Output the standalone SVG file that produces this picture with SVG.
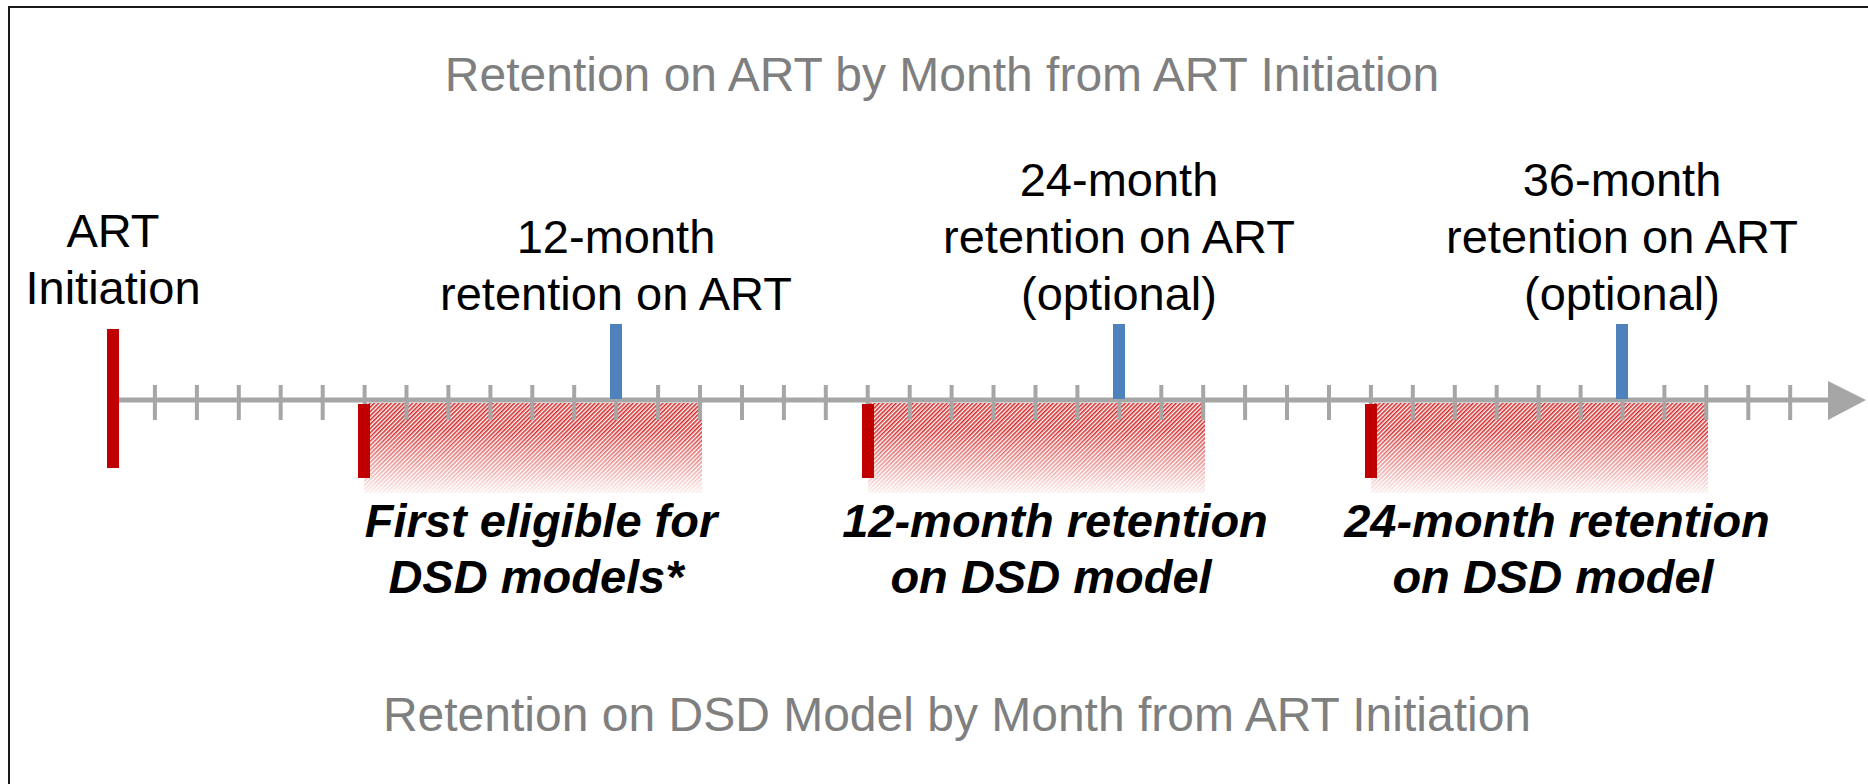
<svg xmlns="http://www.w3.org/2000/svg" width="1868" height="784" viewBox="0 0 1868 784">
  <style>
    .title { font-family: "Liberation Sans", Arial, sans-serif; font-size: 48px; fill: #7f7f7f; text-anchor: middle; }
    .lbl { font-family: "Liberation Sans", Arial, sans-serif; font-size: 47px; fill: #000; text-anchor: middle; }
    .dsd { font-family: "Liberation Sans", Arial, sans-serif; font-size: 47px; font-weight: bold; font-style: italic; fill: #000; text-anchor: middle; }
    .tick { stroke: #a6a6a6; stroke-width: 4; }
    .axis { stroke: #a6a6a6; stroke-width: 5; }
    .red { fill: #c00000; }
    .blue { fill: #4f81bd; }
  </style>
  <defs>
    <pattern id="stripes" width="3" height="3" patternUnits="userSpaceOnUse" patternTransform="rotate(45)">
      <rect width="1.6" height="3" fill="#d42a2a"/>
    </pattern>
    <linearGradient id="fade" x1="0" y1="0" x2="0" y2="1">
      <stop offset="0" stop-color="#fff" stop-opacity="1"/>
      <stop offset="0.3" stop-color="#fff" stop-opacity="1"/>
      <stop offset="1" stop-color="#fff" stop-opacity="0.08"/>
    </linearGradient>
    <mask id="fadeMask" maskContentUnits="objectBoundingBox">
      <rect width="1" height="1" fill="url(#fade)"/>
    </mask>
  </defs>

  <rect width="1868" height="784" fill="#fff"/>
  <!-- frame: open to the right and bottom -->
  <rect x="9" y="7" width="1880" height="800" fill="none" stroke="#1a1a1a" stroke-width="2"/>

  <text class="title" x="942" y="91">Retention on ART by Month from ART Initiation</text>
  <text class="title" x="957" y="731">Retention on DSD Model by Month from ART Initiation</text>

  <!-- DSD windows (hatched, fading downward) -->
  <g id="dsd-windows">
    <rect x="364" y="403" width="338" height="90" fill="url(#stripes)" mask="url(#fadeMask)"/>
    <rect x="868" y="403" width="337" height="90" fill="url(#stripes)" mask="url(#fadeMask)"/>
    <rect x="1371" y="403" width="337" height="90" fill="url(#stripes)" mask="url(#fadeMask)"/>
  </g>

  <!-- timeline axis with month ticks -->
  <g id="connectors">
    <line class="axis" x1="113" y1="400" x2="1832" y2="400"/>
    <polygon points="1828,381 1866,400 1828,420" fill="#a6a6a6"/>
    <g id="ticks">
      <line class="tick" x1="154.9" y1="385" x2="154.9" y2="420"/>
      <line class="tick" x1="196.9" y1="385" x2="196.9" y2="420"/>
      <line class="tick" x1="238.8" y1="385" x2="238.8" y2="420"/>
      <line class="tick" x1="280.7" y1="385" x2="280.7" y2="420"/>
      <line class="tick" x1="322.7" y1="385" x2="322.7" y2="420"/>
      <line class="tick" x1="364.6" y1="385" x2="364.6" y2="420"/>
      <line class="tick" x1="406.5" y1="385" x2="406.5" y2="420"/>
      <line class="tick" x1="448.4" y1="385" x2="448.4" y2="420"/>
      <line class="tick" x1="490.4" y1="385" x2="490.4" y2="420"/>
      <line class="tick" x1="532.3" y1="385" x2="532.3" y2="420"/>
      <line class="tick" x1="574.2" y1="385" x2="574.2" y2="420"/>
      <line class="tick" x1="616.2" y1="385" x2="616.2" y2="420"/>
      <line class="tick" x1="658.1" y1="385" x2="658.1" y2="420"/>
      <line class="tick" x1="700.0" y1="385" x2="700.0" y2="420"/>
      <line class="tick" x1="742.0" y1="385" x2="742.0" y2="420"/>
      <line class="tick" x1="783.9" y1="385" x2="783.9" y2="420"/>
      <line class="tick" x1="825.8" y1="385" x2="825.8" y2="420"/>
      <line class="tick" x1="867.7" y1="385" x2="867.7" y2="420"/>
      <line class="tick" x1="909.7" y1="385" x2="909.7" y2="420"/>
      <line class="tick" x1="951.6" y1="385" x2="951.6" y2="420"/>
      <line class="tick" x1="993.5" y1="385" x2="993.5" y2="420"/>
      <line class="tick" x1="1035.5" y1="385" x2="1035.5" y2="420"/>
      <line class="tick" x1="1077.4" y1="385" x2="1077.4" y2="420"/>
      <line class="tick" x1="1119.3" y1="385" x2="1119.3" y2="420"/>
      <line class="tick" x1="1161.3" y1="385" x2="1161.3" y2="420"/>
      <line class="tick" x1="1203.2" y1="385" x2="1203.2" y2="420"/>
      <line class="tick" x1="1245.1" y1="385" x2="1245.1" y2="420"/>
      <line class="tick" x1="1287.0" y1="385" x2="1287.0" y2="420"/>
      <line class="tick" x1="1329.0" y1="385" x2="1329.0" y2="420"/>
      <line class="tick" x1="1370.9" y1="385" x2="1370.9" y2="420"/>
      <line class="tick" x1="1412.8" y1="385" x2="1412.8" y2="420"/>
      <line class="tick" x1="1454.8" y1="385" x2="1454.8" y2="420"/>
      <line class="tick" x1="1496.7" y1="385" x2="1496.7" y2="420"/>
      <line class="tick" x1="1538.6" y1="385" x2="1538.6" y2="420"/>
      <line class="tick" x1="1580.6" y1="385" x2="1580.6" y2="420"/>
      <line class="tick" x1="1622.5" y1="385" x2="1622.5" y2="420"/>
      <line class="tick" x1="1664.4" y1="385" x2="1664.4" y2="420"/>
      <line class="tick" x1="1706.3" y1="385" x2="1706.3" y2="420"/>
      <line class="tick" x1="1748.3" y1="385" x2="1748.3" y2="420"/>
      <line class="tick" x1="1790.2" y1="385" x2="1790.2" y2="420"/>
    </g>
  </g>

  <g id="art-initiation">
    <rect class="red" x="107" y="329" width="12" height="139"/>
    <text class="lbl" x="113" y="247">ART</text>
    <text class="lbl" x="113" y="304">Initiation</text>
  </g>

  <g id="art-12">
    <rect class="blue" x="610" y="324" width="12" height="75"/>
    <text class="lbl" x="616" y="253">12-month</text>
    <text class="lbl" x="616" y="310">retention on ART</text>
  </g>

  <g id="art-24">
    <rect class="blue" x="1113" y="324" width="12" height="75"/>
    <text class="lbl" x="1119" y="196">24-month</text>
    <text class="lbl" x="1119" y="253">retention on ART</text>
    <text class="lbl" x="1119" y="310">(optional)</text>
  </g>

  <g id="art-36">
    <rect class="blue" x="1616" y="324" width="12" height="75"/>
    <text class="lbl" x="1622" y="196">36-month</text>
    <text class="lbl" x="1622" y="253">retention on ART</text>
    <text class="lbl" x="1622" y="310">(optional)</text>
  </g>

  <g id="dsd-first">
    <rect class="red" x="358" y="404" width="12" height="74"/>
    <text class="dsd" x="541" y="537">First eligible for</text>
    <text class="dsd" x="536" y="593">DSD models*</text>
  </g>

  <g id="dsd-12">
    <rect class="red" x="862" y="404" width="12" height="74"/>
    <text class="dsd" x="1055" y="537">12-month retention</text>
    <text class="dsd" x="1051" y="593">on DSD model</text>
  </g>

  <g id="dsd-24">
    <rect class="red" x="1365" y="404" width="12" height="74"/>
    <text class="dsd" x="1557" y="537">24-month retention</text>
    <text class="dsd" x="1553" y="593">on DSD model</text>
  </g>
</svg>
